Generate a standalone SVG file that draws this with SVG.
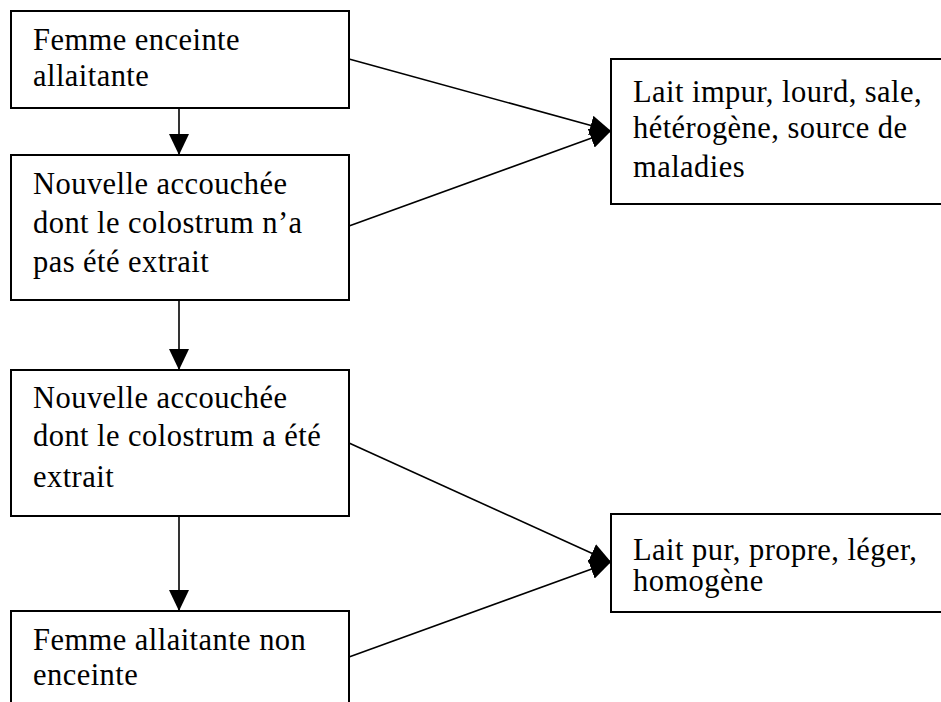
<svg xmlns="http://www.w3.org/2000/svg" width="941" height="702" viewBox="0 0 941 702">
<defs>
<style>
.box{fill:#fff;stroke:#000;stroke-width:2}
.t{font-family:"Liberation Serif","Times New Roman",serif;font-size:30.5px;letter-spacing:0.45px;fill:#000}
.c{stroke:#000;stroke-width:1.6;fill:none}
</style>
<marker id="ah" markerUnits="userSpaceOnUse" markerWidth="22" markerHeight="20" refX="21" refY="10" orient="auto" viewBox="0 0 22 20">
<path d="M0,0 L21,10 L0,20 z" fill="#000"/>
</marker>
</defs>
<rect width="941" height="702" fill="#fff"/>
<g id="n1"><rect class="box" x="11" y="11" width="338" height="97"/>
<text class="t" x="33" y="50">Femme enceinte</text><text class="t" x="33" y="86">allaitante</text></g>
<g id="n2"><rect class="box" x="11" y="155" width="338" height="145"/>
<text class="t" x="33" y="194">Nouvelle accouchée</text><text class="t" x="33" y="233">dont le colostrum n’a</text><text class="t" x="33" y="272">pas été extrait</text></g>
<g id="n3"><rect class="box" x="11" y="370" width="338" height="146"/>
<text class="t" x="33" y="408">Nouvelle accouchée</text><text class="t" x="33" y="446">dont le colostrum a été</text><text class="t" x="33" y="487">extrait</text></g>
<g id="n4"><rect class="box" x="11" y="611" width="338" height="120"/>
<text class="t" x="33" y="650">Femme allaitante non</text><text class="t" x="33" y="685">enceinte</text></g>
<g id="r1"><rect class="box" x="611" y="59" width="350" height="145"/>
<text class="t" x="633" y="102">Lait impur, lourd, sale,</text><text class="t" x="633" y="138">hétérogène, source de</text><text class="t" x="633" y="177">maladies</text></g>
<g id="r2"><rect class="box" x="611" y="514" width="350" height="98"/>
<text class="t" x="633" y="560">Lait pur, propre, léger,</text><text class="t" x="633" y="591">homogène</text></g>
<g id="connectors">
<line class="c" x1="179" y1="108" x2="179" y2="155" marker-end="url(#ah)"/>
<line class="c" x1="179" y1="300" x2="179" y2="370" marker-end="url(#ah)"/>
<line class="c" x1="179" y1="516" x2="179" y2="611" marker-end="url(#ah)"/>
<line class="c" x1="349" y1="59" x2="611" y2="131" marker-end="url(#ah)"/>
<line class="c" x1="349" y1="226" x2="611" y2="131" marker-end="url(#ah)"/>
<line class="c" x1="349" y1="443" x2="611" y2="562" marker-end="url(#ah)"/>
<line class="c" x1="349" y1="657" x2="611" y2="562" marker-end="url(#ah)"/>
</g>
</svg>
